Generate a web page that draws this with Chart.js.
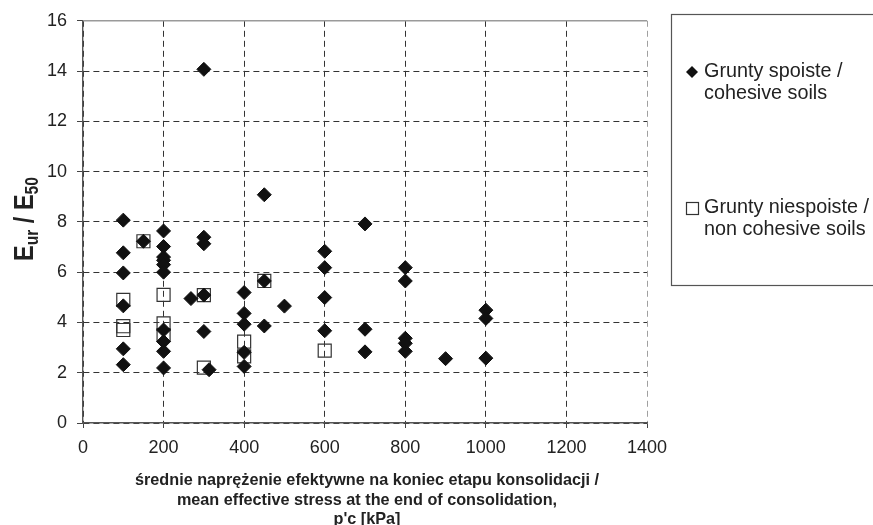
<!DOCTYPE html>
<html lang="pl">

<head>
    <meta charset="UTF-8">
    <title>Eur / E50</title>
    <style>
        body { margin: 0; background: #fff; }
        canvas { display: block; }
    </style>
</head>

<body>
    <canvas id="chart" width="873" height="525"></canvas>

    <script src="https://cdn.jsdelivr.net/npm/chart.js@4.4.7/dist/chart.umd.min.js"></script>
    <script>
        // dane
        const cohesiveX = [100, 100, 100, 100, 100, 100,
            150,
            200, 200, 200, 200, 200, 200, 200, 200, 200, 200,
            268,
            300, 300, 300, 300, 300, 313,
            400, 400, 400, 400, 400,
            450, 450, 450,
            500,
            600, 600, 600, 600,
            700, 700, 700,
            800, 800, 800, 800, 800,
            900,
            1000, 1000, 1000];
        const cohesiveY = [8.07, 6.77, 5.97, 4.66, 2.95, 2.32,
            7.23,
            7.64, 7.02, 6.6, 6.47, 6.3, 6.0, 3.7, 3.24, 2.85, 2.19,
            4.95,
            14.07, 7.39, 7.13, 5.09, 3.64, 2.12,
            5.19, 4.36, 3.93, 2.81, 2.25,
            9.08, 5.65, 3.86,
            4.65,
            6.83, 6.18, 4.99, 3.67,
            7.92, 3.73, 2.83,
            6.18, 5.65, 3.37, 3.17, 2.85,
            2.56,
            4.49, 4.16, 2.58];

        const nonCohesiveX = [100, 100, 100, 150, 200, 200, 200, 300, 300, 400, 400, 450, 600];
        const nonCohesiveY = [4.9, 3.85, 3.7, 7.23, 5.1, 3.96, 3.5, 5.09, 2.2, 3.24, 2.65, 5.65, 2.88];

        const xTicks = [0, 200, 400, 600, 800, 1000, 1200, 1400];
        const yTicks = [0, 2, 4, 6, 8, 10, 12, 14, 16];

        const legendLines = [
            ['Grunty spoiste /', 'cohesive soils'],
            ['Grunty niespoiste /', 'non cohesive soils']
        ];
        const xTitleLines = [
            'średnie naprężenie efektywne na koniec etapu konsolidacji /',
            'mean effective stress at the end of consolidation,',
            "p'c [kPa]"
        ];

        const toPoints = (xs, ys) => xs.map((x, i) => ({ x: x, y: ys[i] }));

        const FONT = "'Liberation Sans', Arial, sans-serif";

        // ramka, legenda i tytuły osi rysowane ręcznie
        const extras = {
            id: 'extras',
            afterDraw(chart) {
                const ctx = chart.ctx;
                const area = chart.chartArea;
                ctx.save();

                // górna krawędź obszaru wykresu
                ctx.strokeStyle = '#9a9a9a';
                ctx.lineWidth = 1.5;
                ctx.beginPath();
                ctx.moveTo(area.left, area.top);
                ctx.lineTo(area.right, area.top);
                ctx.stroke();

                // ramka legendy
                ctx.strokeStyle = '#555';
                ctx.lineWidth = 1.2;
                ctx.strokeRect(671.5, 14.5, 260, 271);

                // znaczniki legendy
                ctx.fillStyle = '#111';
                ctx.beginPath();
                ctx.moveTo(692, 66);
                ctx.lineTo(698, 72);
                ctx.lineTo(692, 78);
                ctx.lineTo(686, 72);
                ctx.closePath();
                ctx.fill();
                ctx.strokeStyle = '#333';
                ctx.lineWidth = 1.2;
                ctx.strokeRect(686.5, 202.5, 12, 12);

                // tekst legendy
                ctx.fillStyle = '#222';
                ctx.font = '19.8px ' + FONT;
                ctx.textAlign = 'left';
                ctx.textBaseline = 'middle';
                const legendY = [[72, 94], [208, 230]];
                legendLines.forEach((lines, i) => {
                    lines.forEach((t, j) => ctx.fillText(t, 704, legendY[i][j]));
                });

                // tytuł osi X (tekst zwężony jak w oryginale)
                ctx.font = 'bold 17px ' + FONT;
                ctx.textAlign = 'center';
                const sx = 464 / ctx.measureText(xTitleLines[0]).width;
                const titleY = [480, 500, 519];
                xTitleLines.forEach((t, i) => {
                    ctx.save();
                    ctx.translate(367, titleY[i]);
                    ctx.scale(sx, 1);
                    ctx.fillText(t, 0, 0);
                    ctx.restore();
                });

                // tytuł osi Y: E_ur / E_50
                const parts = [
                    { t: 'E', size: 27, dy: 0 },
                    { t: 'ur', size: 18, dy: 5 },
                    { t: ' / ', size: 27, dy: 0 },
                    { t: 'E', size: 27, dy: 0 },
                    { t: '50', size: 18, dy: 5 }
                ];
                let total = 0;
                parts.forEach(p => {
                    ctx.font = 'bold ' + p.size + 'px ' + FONT;
                    p.w = ctx.measureText(p.t).width;
                    total += p.w;
                });
                const sy = 84 / total;
                ctx.translate(23, 219);
                ctx.rotate(-Math.PI / 2);
                ctx.scale(sy, 1);
                ctx.textAlign = 'left';
                ctx.textBaseline = 'alphabetic';
                let pos = -total / 2;
                parts.forEach(p => {
                    ctx.font = 'bold ' + p.size + 'px ' + FONT;
                    ctx.fillText(p.t, pos, 9.5 + p.dy);
                    pos += p.w;
                });

                ctx.restore();
            }
        };

        const tickFont = { family: FONT, size: 18 };

        new Chart(document.getElementById('chart'), {
            type: 'scatter',
            data: {
                datasets: [{
                    label: legendLines[0].join(' '),
                    data: toPoints(cohesiveX, cohesiveY),
                    pointStyle: 'rectRot',
                    pointRadius: 7,
                    backgroundColor: '#111',
                    borderColor: '#111',
                    borderWidth: 1
                }, {
                    label: legendLines[1].join(' '),
                    data: toPoints(nonCohesiveX, nonCohesiveY),
                    pointStyle: 'rect',
                    pointRadius: 9.2,
                    backgroundColor: 'rgba(0,0,0,0)',
                    borderColor: '#333',
                    borderWidth: 1.2
                }]
            },
            options: {
                responsive: false,
                animation: false,
                events: [],
                layout: { padding: { top: 17, right: 226, left: 0, bottom: 0 } },
                plugins: {
                    legend: { display: false },
                    tooltip: { enabled: false }
                },
                scales: {
                    x: {
                        type: 'linear',
                        min: xTicks[0],
                        max: xTicks[xTicks.length - 1],
                        afterBuildTicks: s => { s.ticks = xTicks.map(v => ({ value: v })); },
                        afterFit: s => { s.height = 102; },
                        ticks: { font: tickFont, color: '#222', padding: 9, maxRotation: 0, callback: v => String(v) },
                        grid: {
                            color: c => c.tick && c.tick.value === 1400 ? '#a0a0a0' : '#333',
                            lineWidth: 1,
                            tickLength: 5,
                            tickColor: '#444',
                            tickBorderDash: []
                        },
                        border: { color: '#555', width: 1.4, dash: [6, 4] }
                    },
                    y: {
                        min: yTicks[0],
                        max: yTicks[yTicks.length - 1],
                        afterBuildTicks: s => { s.ticks = yTicks.map(v => ({ value: v })); },
                        afterFit: s => { s.width = 83; },
                        ticks: { font: tickFont, color: '#222', padding: 10, callback: v => String(v) },
                        grid: {
                            color: c => c.tick && c.tick.value === 16 ? 'rgba(0,0,0,0)' : '#333',
                            lineWidth: 1,
                            tickLength: 6,
                            tickColor: '#444',
                            tickBorderDash: []
                        },
                        border: { color: '#555', width: 1.4, dash: [6, 4] }
                    }
                }
            },
            plugins: [extras]
        });
    </script>
</body>

</html>
